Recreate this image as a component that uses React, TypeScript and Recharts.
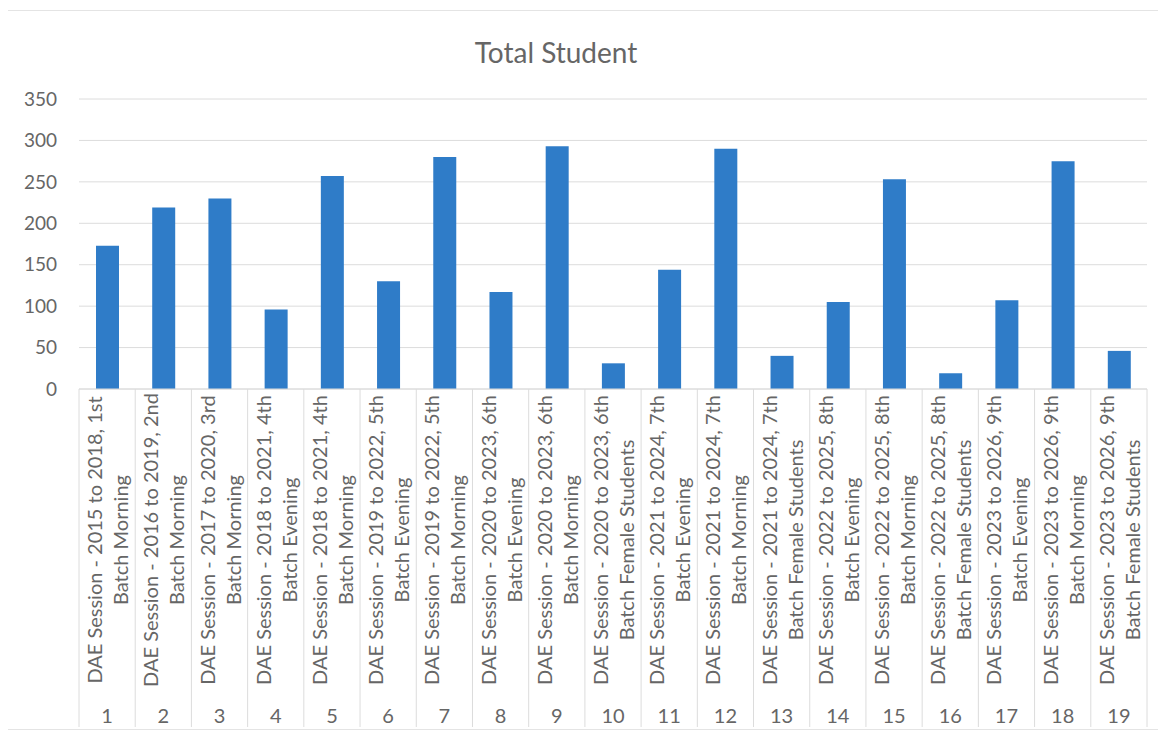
import { BarChart, Bar, XAxis, YAxis, CartesianGrid } from "recharts";

// category labels (two lines) + running number row
const sessions = [
  "DAE Session - 2015 to 2018, 1st",
  "DAE Session - 2016 to 2019, 2nd",
  "DAE Session - 2017 to 2020, 3rd",
  "DAE Session - 2018 to 2021, 4th",
  "DAE Session - 2018 to 2021, 4th",
  "DAE Session - 2019 to 2022, 5th",
  "DAE Session - 2019 to 2022, 5th",
  "DAE Session - 2020 to 2023, 6th",
  "DAE Session - 2020 to 2023, 6th",
  "DAE Session - 2020 to 2023, 6th",
  "DAE Session - 2021 to 2024, 7th",
  "DAE Session - 2021 to 2024, 7th",
  "DAE Session - 2021 to 2024, 7th",
  "DAE Session - 2022 to 2025, 8th",
  "DAE Session - 2022 to 2025, 8th",
  "DAE Session - 2022 to 2025, 8th",
  "DAE Session - 2023 to 2026, 9th",
  "DAE Session - 2023 to 2026, 9th",
  "DAE Session - 2023 to 2026, 9th",
];

const batches = [
  "Batch Morning",
  "Batch Morning",
  "Batch Morning",
  "Batch Evening",
  "Batch Morning",
  "Batch Evening",
  "Batch Morning",
  "Batch Evening",
  "Batch Morning",
  "Batch Female Students",
  "Batch Evening",
  "Batch Morning",
  "Batch Female Students",
  "Batch Evening",
  "Batch Morning",
  "Batch Female Students",
  "Batch Evening",
  "Batch Morning",
  "Batch Female Students",
];

const totals = [173, 219, 230, 96, 257, 130, 280, 117, 293, 31, 144, 290, 40, 105, 253, 19, 107, 275, 46];

const yTicks = [0, 50, 100, 150, 200, 250, 300, 350];

const data = totals.map((total, i) => ({ idx: i + 1, total }));

const CHART_W = 1150;
const CHART_H = 722;
const MARGIN = { top: 91, right: 11, bottom: 11, left: 0 };
const Y_AXIS_W = 71;
const BAND = (CHART_W - MARGIN.left - MARGIN.right - Y_AXIS_W) / totals.length;

const TEXT = "#666666";
const LINE = "#dcdcdc";

// multi-level category tick: rotated session/batch text, separators, number row
const CategoryTick = (props: any) => {
  const { x, y, payload } = props;
  const i = Number(payload.value) - 1;
  const left = x - BAND / 2;
  const midY = y + 151;
  return (
    <g>
      <line x1={left} x2={left} y1={y} y2={y + 338} stroke={LINE} />
      {i === totals.length - 1 && (
        <line x1={left + BAND} x2={left + BAND} y1={y} y2={y + 338} stroke={LINE} />
      )}
      <text
        x={x - 13}
        y={midY}
        transform={`rotate(-90 ${x - 13} ${midY})`}
        textAnchor="middle"
        dominantBaseline="central"
        fontSize={20}
        fill={TEXT}
      >
        {sessions[i]}
      </text>
      <text
        x={x + 13}
        y={midY}
        transform={`rotate(-90 ${x + 13} ${midY})`}
        textAnchor="middle"
        dominantBaseline="central"
        fontSize={20}
        fill={TEXT}
      >
        {batches[i]}
      </text>
      <text x={x} y={y + 326} textAnchor="middle" dominantBaseline="central" fontSize={20} fill={TEXT}>
        {payload.value}
      </text>
    </g>
  );
};

export default function App() {
  return (
    <div
      style={{
        position: "relative",
        width: CHART_W,
        height: CHART_H,
        fontFamily: "Lato, 'Open Sans', sans-serif",
        background: "#ffffff",
      }}
    >
      {/* chart area border */}
      <div
        style={{
          position: "absolute",
          left: -1,
          top: 2,
          width: CHART_W + 2,
          height: CHART_H - 2,
          border: "1px solid #e4e4e4",
          boxSizing: "border-box",
          pointerEvents: "none",
        }}
      />

      {/* title */}
      <div
        style={{
          position: "absolute",
          left: 398,
          top: 30,
          width: 300,
          textAlign: "center",
          fontSize: 28,
          lineHeight: "28px",
          color: "#666666",
        }}
      >
        Total Student
      </div>

      <BarChart width={CHART_W} height={CHART_H} data={data} margin={MARGIN}>
        <CartesianGrid vertical={false} stroke={LINE} />
        <XAxis
          dataKey="idx"
          interval={0}
          height={330}
          tickLine={false}
          tickSize={0}
          tickMargin={0}
          axisLine={{ stroke: LINE }}
          tick={<CategoryTick />}
        />
        <YAxis
          width={Y_AXIS_W}
          domain={[0, 350]}
          ticks={yTicks}
          axisLine={false}
          tickLine={false}
          tickSize={6}
          tickMargin={16}
          tick={{ fill: TEXT, fontSize: 19 }}
        />
        <Bar dataKey="total" fill="#2F7CC8" barSize={23} isAnimationActive={false} />
      </BarChart>
    </div>
  );
}
